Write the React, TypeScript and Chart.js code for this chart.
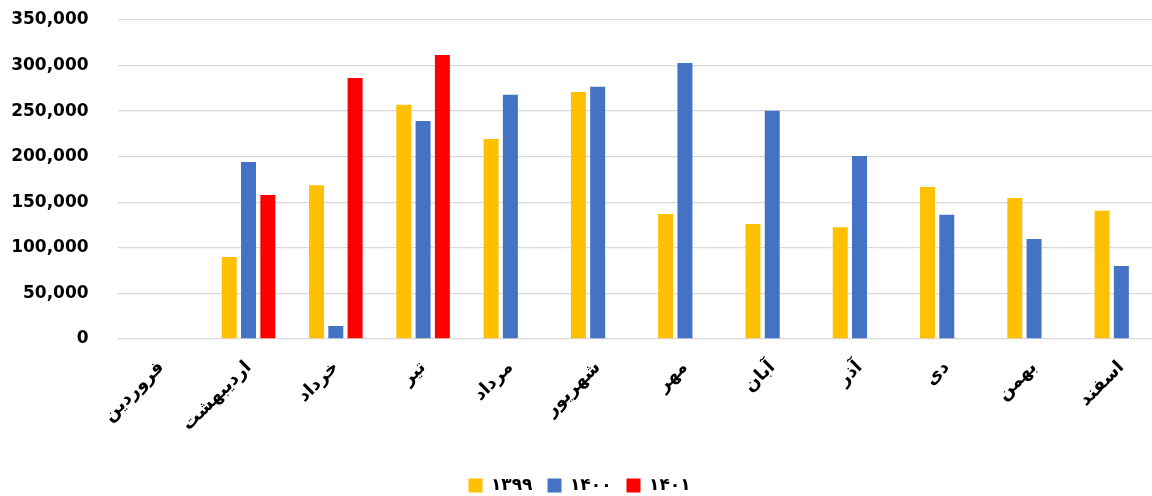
import React, { useEffect, useRef } from "react";
import { Chart, registerables } from "chart.js";

Chart.register(...registerables);

const months = ["فروردین", "اردیبهشت", "خرداد", "تیر", "مرداد", "شهریور", "مهر", "آبان", "آذر", "دی", "بهمن", "اسفند"];
const seriesLabels = ["۱۳۹۹", "۱۴۰۰", "۱۴۰۱"];
const values1399 = [null, 90000, 168600, 257100, 219400, 271000, 137100, 126200, 122500, 166800, 154700, 140800];
const values1400 = [null, 194200, 14300, 239200, 268100, 276800, 302800, 250500, 200800, 136400, 109700, 80100];
const values1401 = [null, 158000, 286400, 311600, null, null, null, null, null, null, null, null];
const seriesColors = ["#FFC000", "#4472C4", "#FF0000"];
const yMin = 0;
const yMax = 350000;
const yStep = 50000;

const legendShift = {
  id: "legendShift",
  afterLayout(chart: any) {
    const lg = chart.legend;
    if (lg) {
      lg.left -= 3;
      lg.right -= 3;
    }
  },
};

export default function App() {
  const ref = useRef<HTMLCanvasElement | null>(null);
  useEffect(() => {
    if (!ref.current) return;
    const all = [values1399, values1400, values1401];
    const chart = new Chart(ref.current, {
      type: "bar",
      data: {
        labels: months,
        datasets: all.map((d, i) => ({
          label: seriesLabels[i],
          data: d,
          backgroundColor: seriesColors[i],
          borderWidth: 0,
          categoryPercentage: 0.663,
          barPercentage: 0.777,
        })),
      },
      plugins: [legendShift],
      options: {
        animation: false,
        responsive: true,
        maintainAspectRatio: false,
        layout: { padding: { top: 20, left: 0, right: 0, bottom: 0 } },
        plugins: {
          tooltip: { enabled: false },
          legend: {
            position: "bottom",
            labels: {
              boxWidth: 14,
              boxHeight: 14,
              padding: 15,
              color: "#000",
              font: { family: "'DejaVu Sans', sans-serif", size: 17, weight: "bold" },
            },
          },
        },
        scales: {
          x: {
            grid: { display: false },
            border: { display: false },
            ticks: {
              color: "#000",
              minRotation: 45,
              maxRotation: 45,
              autoSkip: false,
              padding: 10,
              font: { family: "'DejaVu Sans', sans-serif", size: 18, weight: "bold" },
            },
            afterFit: (s: any) => {
              s.height = 123;
            },
          },
          y: {
            min: yMin,
            max: yMax,
            border: { display: false },
            grid: { color: "#d9d9d9", lineWidth: 1.3, drawTicks: false },
            ticks: {
              stepSize: yStep,
              padding: 29,
              color: "#000",
              font: { family: "'DejaVu Sans', sans-serif", size: 17, weight: "bold" },
              callback: (v: any) => Number(v).toLocaleString("en-US"),
            },
            afterFit: (s: any) => {
              s.width = 117.6;
              s.paddingTop = 0;
              s.paddingBottom = 0;
            },
          },
        },
      },
    });
    return () => chart.destroy();
  }, []);
  return (
    <div style={{ position: "fixed", left: 0, top: 0, width: 1152, height: 496, overflow: "hidden", background: "#fff" }}>
      <div style={{ position: "relative", width: 1165, height: 504 }}>
        <canvas ref={ref} />
      </div>
    </div>
  );
}
